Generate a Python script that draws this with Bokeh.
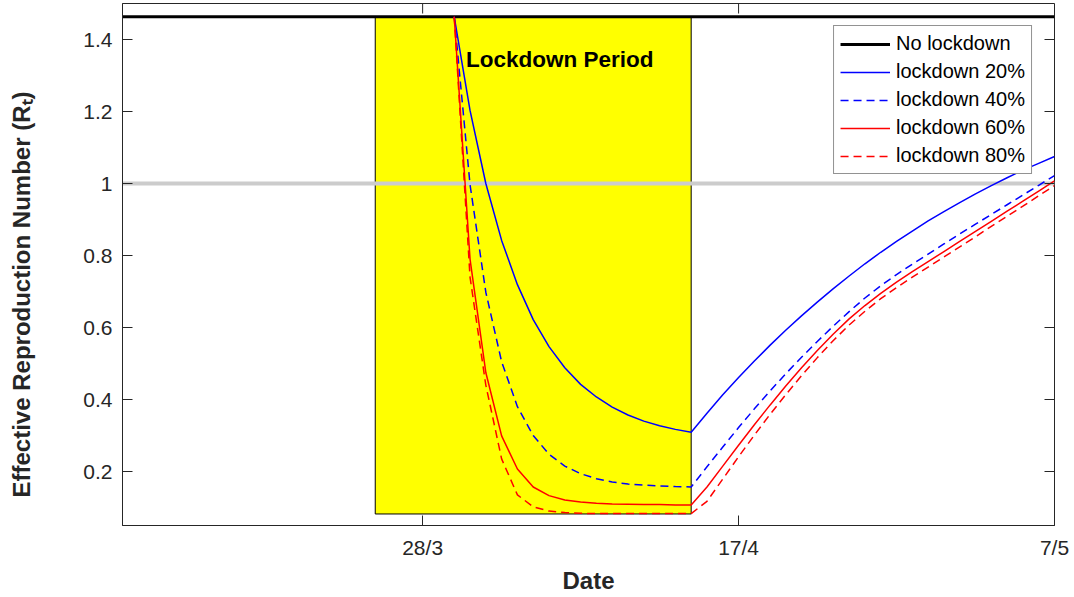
import math
from bokeh.plotting import figure
from bokeh.models import Range1d, FixedTicker, Label
from bokeh.embed import file_html
from bokeh.resources import INLINE

# ---- data (days relative to 28/3) ----
tick_days = [0, 20, 40]
tick_labels = ["28/3", "17/4", "7/5"]
y_ticks = [0.2, 0.4, 0.6, 0.8, 1.0, 1.2, 1.4]
y_tick_labels = ["0.2", "0.4", "0.6", "0.8", "1", "1.2", "1.4"]

lockdown_start = -3
lockdown_end = 17
lockdown_bottom = 0.082
rt_no_lockdown = 1.463
threshold = 1.0
x_first = -19
x_last = 40
y_bottom = 0.05
y_top = 1.5

days = list(range(2, 41))

rt_20 = [1.463, 1.203, 1.000, 0.842, 0.719, 0.622, 0.547, 0.488, 0.442, 0.407,
         0.379, 0.357, 0.340, 0.327, 0.317, 0.309,
         0.362, 0.413, 0.461, 0.507, 0.551, 0.593, 0.633, 0.671, 0.708, 0.743,
         0.777, 0.809, 0.839, 0.868, 0.896, 0.922, 0.947, 0.971, 0.994, 1.016,
         1.037, 1.056, 1.075]
rt_40 = [1.463, 0.997, 0.698, 0.505, 0.380, 0.300, 0.248, 0.215, 0.194, 0.180,
         0.171, 0.165, 0.162, 0.160, 0.158, 0.157,
         0.213, 0.268, 0.322, 0.374, 0.424, 0.472, 0.518, 0.562, 0.604, 0.644,
         0.682, 0.716, 0.747, 0.776, 0.804, 0.832, 0.860, 0.887, 0.914, 0.941,
         0.968, 0.995, 1.022]
rt_60 = [1.463, 0.790, 0.475, 0.299, 0.207, 0.157, 0.133, 0.121, 0.115, 0.112,
         0.110, 0.109, 0.108, 0.108, 0.107, 0.107,
         0.157, 0.215, 0.273, 0.330, 0.385, 0.438, 0.489, 0.537, 0.582, 0.624,
         0.661, 0.695, 0.726, 0.755, 0.783, 0.811, 0.839, 0.867, 0.895, 0.923,
         0.951, 0.979, 1.007]
rt_80 = [1.463, 0.740, 0.440, 0.235, 0.135, 0.102, 0.090, 0.086, 0.084, 0.083,
         0.083, 0.083, 0.083, 0.083, 0.083, 0.083,
         0.117, 0.179, 0.241, 0.301, 0.359, 0.414, 0.467, 0.517, 0.564, 0.607,
         0.645, 0.680, 0.711, 0.740, 0.768, 0.796, 0.824, 0.852, 0.881, 0.909,
         0.937, 0.966, 0.994]

y_title = "Effective Reproduction Number (R\u209c)"
x_title = "Date"
box_text = "Lockdown Period"

FONT = "Liberation Sans"
AX = "#262626"

p = figure(width=1074, height=597, output_backend="svg", toolbar_location=None,
           x_range=Range1d(x_first, x_last), y_range=Range1d(y_bottom, y_top),
           min_border_left=122, min_border_right=20, min_border_top=3,
           min_border_bottom=72)
p.grid.visible = False
p.outline_line_color = AX
p.outline_line_width = 1
p.background_fill_color = "white"
p.border_fill_color = "white"

# lockdown period box
p.quad(left=[lockdown_start], right=[lockdown_end], bottom=[lockdown_bottom],
       top=[rt_no_lockdown], fill_color="#ffff00", line_color="black", line_width=1)

# threshold line
p.line([x_first, x_last], [threshold, threshold], line_color="#cccccc", line_width=4)

# curves
p.line([x_first, x_last], [rt_no_lockdown, rt_no_lockdown], line_color="black",
       line_width=3, legend_label="No lockdown")
p.line(days, rt_20, line_color="#0000ff", line_width=1.5, legend_label="lockdown 20%")
p.line(days, rt_40, line_color="#0000ff", line_width=1.5, line_dash="8 5",
       legend_label="lockdown 40%")
p.line(days, rt_60, line_color="#ff0000", line_width=1.5, legend_label="lockdown 60%")
p.line(days, rt_80, line_color="#ff0000", line_width=1.5, line_dash="8 5",
       legend_label="lockdown 80%")

# mirrored (inward) ticks on the top and right edges of the box
p.ray(x=[x_last] * len(y_ticks), y=y_ticks, length=10, length_units="screen",
      angle=math.pi, line_color=AX, line_width=1)
p.ray(x=tick_days, y=[y_top] * len(tick_days), length=10, length_units="screen",
      angle=-math.pi / 2, line_color=AX, line_width=1)

p.add_layout(Label(x=2.75, y=1.345, text=box_text, text_font=FONT,
                   text_font_style="bold", text_font_size="22.5px",
                   text_baseline="middle", text_align="left", text_color="black"))

# axes
def style_axis(ax):
    ax.axis_line_color = AX
    ax.major_tick_line_color = AX
    ax.major_tick_in = 10
    ax.major_tick_out = 0
    ax.minor_tick_line_color = None
    ax.major_label_text_font = FONT
    ax.major_label_text_font_size = "21px"
    ax.major_label_text_color = AX
    ax.axis_label_text_font = FONT
    ax.axis_label_text_font_style = "bold"
    ax.axis_label_text_font_size = "24px"
    ax.axis_label_text_color = AX

xa = p.xaxis[0]
style_axis(xa)
xa.ticker = FixedTicker(ticks=tick_days)
xa.major_label_overrides = dict(zip(tick_days, tick_labels))
xa.major_label_standoff = 10
xa.axis_label = x_title
xa.axis_label_standoff = 5

ya = p.yaxis[0]
style_axis(ya)
ya.ticker = FixedTicker(ticks=y_ticks)
ya.major_label_overrides = dict(zip(y_ticks, y_tick_labels))
ya.major_label_standoff = 10
# trailing no-break spaces push the (centred) title down, as in the reference
ya.axis_label = y_title + "\u00a0" * 9
ya.axis_label_standoff = 45

# legend
lg = p.legend[0]
lg.location = "top_right"
lg.margin = 22
lg.padding = 6
lg.spacing = 5
lg.glyph_width = 50
lg.glyph_height = 20
lg.label_height = 20
lg.label_standoff = 6
lg.label_text_font = FONT
lg.label_text_font_size = "20px"
lg.label_text_color = "black"
lg.border_line_color = AX
lg.border_line_width = 1
lg.background_fill_alpha = 1

open("out.html", "w").write(file_html(p, INLINE))
